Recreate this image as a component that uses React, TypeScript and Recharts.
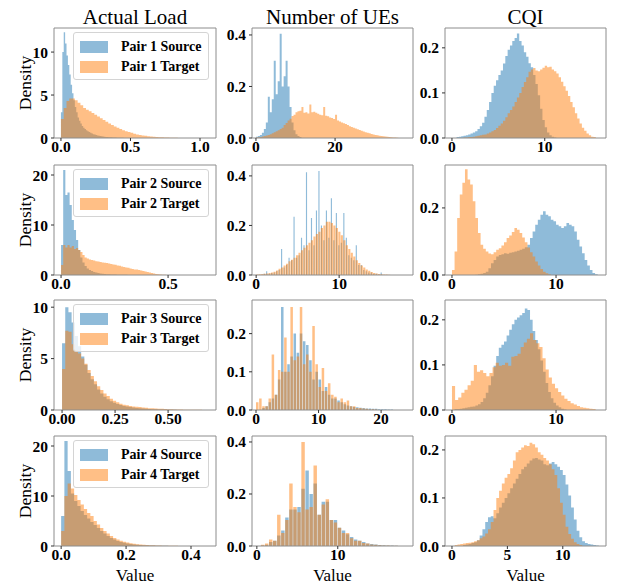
import React from "react";
import { ComposedChart, Area, XAxis, YAxis, ReferenceArea, Legend } from "recharts";

// ---------- data (density per bin) ----------
const columnTitles = ["Actual Load", "Number of UEs", "CQI"];
const pairNames = ["Pair 1", "Pair 2", "Pair 3", "Pair 4"];

// Actual Load
const loadSrc1 = [3, 10, 12.3, 11, 9.6, 8.5, 7.4, 6.2, 5.2, 4.4, 3.6, 3.0, 2.4, 2.0, 1.7, 1.4, 1.2, 1.05, 0.9, 0.8, 0.7, 0.6, 0.52, 0.45, 0.4, 0.35, 0.3, 0.26, 0.22, 0.2, 0.17, 0.15, 0.13, 0.11, 0.1, 0.09, 0.08, 0.07, 0.06, 0.05, 0.04, 0.03, 0.03, 0.02, 0.02, 0.01];
const loadTgt1 = [2.2, 3.5, 4.3, 4.6, 4.6, 4.4, 4.1, 3.8, 3.5, 3.3, 3.1, 2.9, 2.7, 2.5, 2.3, 2.1, 1.9, 1.7, 1.5, 1.35, 1.2, 1.05, 0.9, 0.8, 0.7, 0.6, 0.5, 0.42, 0.36, 0.3, 0.25, 0.21, 0.17, 0.14, 0.12, 0.1, 0.08, 0.06, 0.05, 0.04, 0.03, 0.02, 0.01];
const loadSrc2 = [6, 21, 16, 16.5, 14, 11, 9, 7, 5, 3.5, 2.5, 1.8, 1.3, 1.0, 0.8, 0.6, 0.5, 0.4, 0.3, 0.25, 0.2, 0.17, 0.14, 0.12, 0.1, 0.08, 0.07, 0.06, 0.05, 0.04, 0.03, 0.02, 0.02, 0.01];
const loadTgt2 = [2, 6, 5.5, 6, 5.5, 5.8, 5.2, 5.4, 5, 4.6, 4, 3.5, 3.3, 3.1, 3.0, 2.9, 2.75, 2.7, 2.6, 2.5, 2.45, 2.4, 2.3, 2.2, 2.1, 2.05, 1.9, 1.85, 1.7, 1.62, 1.5, 1.45, 1.3, 1.22, 1.1, 1.08, 0.98, 0.92, 0.8, 0.72, 0.6, 0.52, 0.4, 0.32, 0.22, 0.16, 0.1, 0.06, 0.03, 0.02];
const loadSrc3 = [6.5, 10, 9.5, 8.5, 7.2, 6.2, 5.2, 4.4, 3.6, 3.0, 2.5, 2.0, 1.6, 1.3, 1.05, 0.85, 0.7, 0.58, 0.48, 0.4, 0.34, 0.28, 0.24, 0.2, 0.17, 0.14, 0.12, 0.1, 0.08, 0.07, 0.06, 0.05, 0.04, 0.03, 0.02, 0.02, 0.01];
const loadTgt3 = [4, 7.7, 7.6, 6.4, 5.8, 5.5, 5.0, 4.5, 3.9, 3.3, 2.8, 2.3, 1.95, 1.6, 1.35, 1.1, 0.9, 0.75, 0.62, 0.52, 0.46, 0.4, 0.35, 0.31, 0.28, 0.24, 0.21, 0.18, 0.16, 0.14, 0.12, 0.11, 0.1, 0.08, 0.07, 0.06, 0.05, 0.04, 0.035, 0.03, 0.025, 0.02, 0.02, 0.015, 0.01];
const loadSrc4 = [6, 21, 15, 10.5, 9, 8, 7, 6.2, 5.5, 4.8, 4.2, 3.6, 3.0, 2.5, 2.0, 1.6, 1.3, 1.0, 0.8, 0.65, 0.5, 0.4, 0.32, 0.25, 0.2, 0.16, 0.13, 0.1, 0.08, 0.06, 0.05, 0.04, 0.03, 0.02, 0.02, 0.01];
const loadTgt4 = [3, 10, 12.5, 11.5, 10.2, 9.2, 8.3, 7.4, 6.6, 6.0, 5.0, 4.3, 3.6, 3.0, 2.5, 2.0, 1.6, 1.3, 1.05, 0.85, 0.7, 0.55, 0.45, 0.37, 0.3, 0.25, 0.2, 0.16, 0.13, 0.1, 0.08, 0.07, 0.05, 0.04, 0.03, 0.03, 0.02, 0.02, 0.01, 0.01];

// Number of UEs
const ueSrc1 = [0.005, 0.008, 0.012, 0.02, 0.035, 0.06, 0.16, 0.1, 0.15, 0.3, 0.17, 0.22, 0.405, 0.2, 0.24, 0.3, 0.2, 0.12, 0.06, 0.03, 0.015, 0.008, 0.004];
const ueTgt1 = [0.002, 0.003, 0.004, 0.006, 0.008, 0.01, 0.012, 0.015, 0.018, 0.022, 0.026, 0.03, 0.035, 0.04, 0.05, 0.058, 0.068, 0.075, 0.085, 0.09, 0.1, 0.104, 0.106, 0.12, 0.098, 0.1, 0.095, 0.13, 0.1, 0.102, 0.098, 0.094, 0.09, 0.088, 0.12, 0.086, 0.084, 0.08, 0.078, 0.074, 0.09, 0.068, 0.064, 0.06, 0.057, 0.054, 0.05, 0.046, 0.043, 0.04, 0.037, 0.034, 0.031, 0.028, 0.025, 0.022, 0.02, 0.018, 0.016, 0.014, 0.012, 0.011, 0.009, 0.008, 0.007, 0.006, 0.005, 0.004, 0.003, 0.002, 0.002, 0.001];
const ueSrc2 = [0, 0, 0, 0.005, 0.015, 0.005, 0.008, 0.01, 0.015, 0.02, 0.105, 0.03, 0.04, 0.07, 0.06, 0.235, 0.07, 0.08, 0.15, 0.12, 0.415, 0.1, 0.23, 0.12, 0.26, 0.42, 0.2, 0.14, 0.26, 0.15, 0.31, 0.14, 0.25, 0.12, 0.13, 0.25, 0.15, 0.08, 0.07, 0.06, 0.12, 0.04, 0.04, 0.02, 0.015, 0.01, 0.01, 0.005, 0.005, 0.002, 0.01];
const ueTgt2 = [0.002, 0.003, 0.004, 0.005, 0.006, 0.008, 0.01, 0.013, 0.018, 0.025, 0.03, 0.038, 0.045, 0.055, 0.062, 0.07, 0.08, 0.09, 0.1, 0.11, 0.12, 0.13, 0.14, 0.155, 0.165, 0.175, 0.19, 0.2, 0.215, 0.215, 0.21, 0.2, 0.19, 0.175, 0.16, 0.14, 0.12, 0.105, 0.09, 0.075, 0.06, 0.048, 0.038, 0.03, 0.022, 0.017, 0.012, 0.008, 0.006, 0.004, 0.003, 0.002, 0.002, 0.001];
const ueSrc3 = [0, 0, 0.005, 0.01, 0.02, 0.03, 0.04, 0.08, 0.27, 0.1, 0.12, 0.14, 0.2, 0.15, 0.2, 0.18, 0.17, 0.13, 0.08, 0.1, 0.08, 0.05, 0.06, 0.04, 0.03, 0.03, 0.025, 0.02, 0.015, 0.012, 0.01, 0.008, 0.007, 0.006, 0.005, 0.004, 0.004, 0.003, 0.003, 0.002, 0.002, 0.002, 0.001, 0.001];
const ueTgt3 = [0.02, 0.03, 0.01, 0.01, 0.03, 0.145, 0.04, 0.105, 0.1, 0.19, 0.1, 0.27, 0.13, 0.14, 0.27, 0.12, 0.145, 0.1, 0.22, 0.12, 0.06, 0.11, 0.05, 0.07, 0.04, 0.035, 0.02, 0.03, 0.02, 0.025, 0.01, 0.01, 0.005, 0.005, 0.004, 0.003, 0.002, 0.002, 0.001];
const ueSrc4 = [0, 0.002, 0.005, 0.015, 0.02, 0.04, 0.06, 0.11, 0.14, 0.14, 0.15, 0.22, 0.29, 0.2, 0.24, 0.12, 0.17, 0.17, 0.1, 0.1, 0.07, 0.06, 0.045, 0.035, 0.025, 0.02, 0.015, 0.01, 0.008, 0.006, 0.004, 0.003, 0.002, 0.002, 0.001];
const ueTgt4 = [0, 0.005, 0.01, 0.025, 0.02, 0.12, 0.05, 0.1, 0.24, 0.15, 0.13, 0.4, 0.14, 0.15, 0.31, 0.12, 0.16, 0.18, 0.1, 0.09, 0.07, 0.05, 0.05, 0.03, 0.02, 0.02, 0.012, 0.01, 0.006, 0.005, 0.003, 0.002, 0.002, 0.001, 0.001];

// CQI
const cqiSrc1 = [0, 0, 0.002, 0.003, 0.004, 0.005, 0.006, 0.008, 0.01, 0.012, 0.015, 0.02, 0.026, 0.034, 0.047, 0.062, 0.08, 0.1, 0.116, 0.128, 0.14, 0.15, 0.165, 0.182, 0.196, 0.205, 0.215, 0.222, 0.232, 0.215, 0.205, 0.19, 0.18, 0.166, 0.157, 0.14, 0.12, 0.095, 0.065, 0.04, 0.024, 0.012, 0.006, 0.003, 0.001];
const cqiTgt1 = [0, 0, 0, 0, 0, 0.001, 0.001, 0.002, 0.002, 0.003, 0.004, 0.005, 0.006, 0.007, 0.008, 0.01, 0.012, 0.015, 0.018, 0.022, 0.027, 0.032, 0.038, 0.046, 0.055, 0.062, 0.07, 0.08, 0.09, 0.1, 0.113, 0.124, 0.135, 0.147, 0.152, 0.155, 0.15, 0.148, 0.152, 0.156, 0.16, 0.157, 0.158, 0.152, 0.148, 0.143, 0.135, 0.125, 0.115, 0.105, 0.093, 0.08, 0.068, 0.055, 0.043, 0.032, 0.023, 0.016, 0.01, 0.006, 0.003, 0.002];
const cqiSrc2 = [0, 0, 0, 0, 0, 0, 0, 0, 0, 0.001, 0.002, 0.004, 0.006, 0.01, 0.02, 0.035, 0.045, 0.055, 0.06, 0.062, 0.065, 0.063, 0.066, 0.068, 0.07, 0.072, 0.075, 0.078, 0.083, 0.09, 0.11, 0.13, 0.15, 0.165, 0.18, 0.19, 0.18, 0.175, 0.165, 0.16, 0.15, 0.145, 0.14, 0.145, 0.155, 0.15, 0.145, 0.13, 0.105, 0.085, 0.065, 0.045, 0.028, 0.015, 0.006, 0.002];
const cqiTgt2 = [0.015, 0.07, 0.17, 0.24, 0.275, 0.315, 0.285, 0.27, 0.22, 0.17, 0.125, 0.09, 0.078, 0.07, 0.064, 0.062, 0.068, 0.075, 0.08, 0.088, 0.098, 0.11, 0.118, 0.128, 0.14, 0.135, 0.125, 0.112, 0.098, 0.082, 0.068, 0.055, 0.04, 0.028, 0.018, 0.01, 0.005, 0.002];
const cqiSrc3 = [0, 0.002, 0.002, 0.003, 0.004, 0.005, 0.006, 0.007, 0.008, 0.01, 0.013, 0.018, 0.026, 0.038, 0.055, 0.075, 0.098, 0.12, 0.138, 0.145, 0.152, 0.165, 0.178, 0.19, 0.2, 0.205, 0.21, 0.215, 0.225, 0.222, 0.2, 0.175, 0.155, 0.135, 0.11, 0.085, 0.06, 0.04, 0.026, 0.016, 0.01, 0.006, 0.003, 0.001];
const cqiTgt3 = [0.053, 0.022, 0.028, 0.038, 0.045, 0.055, 0.065, 0.1, 0.085, 0.088, 0.082, 0.075, 0.082, 0.095, 0.105, 0.098, 0.1, 0.105, 0.098, 0.118, 0.12, 0.125, 0.14, 0.15, 0.158, 0.17, 0.155, 0.148, 0.14, 0.115, 0.09, 0.072, 0.058, 0.048, 0.04, 0.032, 0.025, 0.02, 0.015, 0.012, 0.009, 0.006, 0.005, 0.004, 0.003, 0.002];
const cqiSrc4 = [0, 0, 0, 0, 0.002, 0.003, 0.004, 0.006, 0.008, 0.012, 0.022, 0.035, 0.05, 0.06, 0.062, 0.058, 0.068, 0.08, 0.09, 0.1, 0.11, 0.12, 0.13, 0.14, 0.15, 0.16, 0.165, 0.172, 0.178, 0.182, 0.183, 0.18, 0.178, 0.17, 0.168, 0.172, 0.175, 0.17, 0.165, 0.158, 0.148, 0.128, 0.105, 0.08, 0.055, 0.032, 0.018, 0.01, 0.006, 0.004, 0.003, 0.002, 0.001];
const cqiTgt4 = [0, 0.002, 0.003, 0.004, 0.005, 0.006, 0.007, 0.008, 0.01, 0.012, 0.016, 0.02, 0.026, 0.035, 0.05, 0.075, 0.1, 0.115, 0.13, 0.142, 0.15, 0.162, 0.178, 0.195, 0.2, 0.205, 0.21, 0.208, 0.215, 0.212, 0.205, 0.195, 0.19, 0.183, 0.178, 0.17, 0.16, 0.148, 0.12, 0.09, 0.065, 0.04, 0.025, 0.015, 0.008, 0.004, 0.002];

// ---------- helpers ----------
type Hist = { values: number[]; width: number; start: number; fill: number };
const hist = (values: number[], width: number, fill = 1, start = 0): Hist => ({ values, width, start, fill });

const edges = (h: Hist) =>
  h.values.flatMap((_, i) => {
    const x0 = h.start + i * h.width;
    return [x0, x0 + h.width * h.fill];
  });

const valueAt = (h: Hist, x: number) => {
  const i = Math.floor((x - h.start) / h.width + 1e-7);
  if (i < 0 || i >= h.values.length) return 0;
  const x0 = h.start + i * h.width;
  return x < x0 + h.width * h.fill - 1e-7 ? h.values[i] : 0;
};

// step data shared by both series of a panel
const merge = (src: Hist, tgt: Hist) => {
  const xs = Array.from(new Set([...edges(src), ...edges(tgt)].map((x) => +x.toFixed(6)))).sort((a, b) => a - b);
  return xs.map((x) => ({ x, src: valueAt(src, x), tgt: valueAt(tgt, x) }));
};

type PanelCfg = {
  src: Hist;
  tgt: Hist;
  xDomain: [number, number];
  xTicks: number[];
  xDec: number;
  yDomain: [number, number];
  yTicks: number[];
  yDec: number;
};

const panels: PanelCfg[][] = [
  [
    { src: hist(loadSrc1, 0.01), tgt: hist(loadTgt1, 0.02), xDomain: [-0.05, 1.115], xTicks: [0, 0.5, 1], xDec: 1, yDomain: [0, 12.8], yTicks: [0, 5, 10], yDec: 0 },
    { src: hist(ueSrc1, 0.5), tgt: hist(ueTgt1, 0.5), xDomain: [-1.0, 39.7], xTicks: [0, 20], xDec: 0, yDomain: [0, 0.427], yTicks: [0, 0.2, 0.4], yDec: 1 },
    { src: hist(cqiSrc1, 0.25), tgt: hist(cqiTgt1, 0.25), xDomain: [-0.75, 16.6], xTicks: [0, 10], xDec: 0, yDomain: [0, 0.244], yTicks: [0, 0.1, 0.2], yDec: 1 },
  ],
  [
    { src: hist(loadSrc2, 0.01), tgt: hist(loadTgt2, 0.01), xDomain: [-0.033, 0.724], xTicks: [0, 0.5], xDec: 1, yDomain: [0, 22], yTicks: [0, 10, 20], yDec: 0 },
    { src: hist(ueSrc2, 0.3, 0.45), tgt: hist(ueTgt2, 0.3, 0.85), xDomain: [-0.5, 18.9], xTicks: [0, 10], xDec: 0, yDomain: [0, 0.444], yTicks: [0, 0.2, 0.4], yDec: 1 },
    { src: hist(cqiSrc2, 0.25), tgt: hist(cqiTgt2, 0.25), xDomain: [-0.67, 14.8], xTicks: [0, 10], xDec: 0, yDomain: [0, 0.328], yTicks: [0, 0.2], yDec: 1 },
  ],
  [
    { src: hist(loadSrc3, 0.015), tgt: hist(loadTgt3, 0.015), xDomain: [-0.038, 0.726], xTicks: [0, 0.25, 0.5], xDec: 2, yDomain: [0, 10.7], yTicks: [0, 5, 10], yDec: 0 },
    { src: hist(ueSrc3, 0.5, 0.8), tgt: hist(ueTgt3, 0.5, 0.8), xDomain: [-0.64, 25.1], xTicks: [0, 10, 20], xDec: 0, yDomain: [0, 0.288], yTicks: [0, 0.1, 0.2], yDec: 1 },
    { src: hist(cqiSrc3, 0.25), tgt: hist(cqiTgt3, 0.3), xDomain: [-0.67, 14.8], xTicks: [0, 10], xDec: 0, yDomain: [0, 0.244], yTicks: [0, 0.1, 0.2], yDec: 1 },
  ],
  [
    { src: hist(loadSrc4, 0.01), tgt: hist(loadTgt4, 0.01), xDomain: [-0.022, 0.477], xTicks: [0, 0.2, 0.4], xDec: 1, yDomain: [0, 22], yTicks: [0, 10, 20], yDec: 0 },
    { src: hist(ueSrc4, 0.5, 0.85), tgt: hist(ueTgt4, 0.5, 0.85), xDomain: [-0.6, 19.3], xTicks: [0, 10], xDec: 0, yDomain: [0, 0.423], yTicks: [0, 0.2, 0.4], yDec: 1 },
    { src: hist(cqiSrc4, 0.25), tgt: hist(cqiTgt4, 0.25), xDomain: [-0.63, 13.9], xTicks: [0, 5, 10], xDec: 0, yDomain: [0, 0.229], yTicks: [0, 0.1, 0.2], yDec: 1 },
  ],
];

// ---------- layout / style ----------
const FONT = '"Liberation Serif", "Times New Roman", serif';
const BLUE = "#1f77b4";
const ORANGE = "#ff7f0e";
const COL_LEFT = [54, 252, 445];
const COL_W = [162, 161, 161];
const ROW_TOP = [28, 165, 300, 436];
const PLOT_H = 110;
const YW = 50;
const MT = 4;
const MR = 6;

const tickStyle = { fill: "#000", fontSize: 15.5, fontWeight: 700, fontFamily: FONT };

function PairLegend({ name }: { name: string }) {
  const row = (color: string, label: string) => (
    <div style={{ display: "flex", alignItems: "center", height: 20 }}>
      <span style={{ display: "inline-block", width: 28, height: 12, background: color, marginLeft: 6, marginRight: 13 }} />
      <span style={{ whiteSpace: "nowrap" }}>{label}</span>
    </div>
  );
  return (
    <div
      style={{
        width: 136,
        height: 48,
        boxSizing: "border-box",
        border: "1px solid #d4d4d4",
        borderRadius: 3,
        background: "rgba(255,255,255,0.8)",
        fontFamily: FONT,
        fontWeight: 700,
        fontSize: 14,
        color: "#000",
        paddingTop: 4,
      }}
    >
      {row("rgba(31,119,180,0.5)", `${name} Source`)}
      {row("rgba(255,127,14,0.5)", `${name} Target`)}
    </div>
  );
}

function Panel({ p, row, col }: { p: PanelCfg; row: number; col: number }) {
  const xh = row === 3 ? 44 : 24;
  const width = YW + COL_W[col] + MR;
  const height = MT + PLOT_H + xh;
  const data = merge(p.src, p.tgt);
  return (
    <div style={{ position: "absolute", left: COL_LEFT[col] - YW, top: ROW_TOP[row] - MT }}>
      <ComposedChart width={width} height={height} data={data} margin={{ top: MT, right: MR, left: 0, bottom: 0 }}>
        <XAxis
          type="number"
          dataKey="x"
          domain={p.xDomain}
          ticks={p.xTicks}
          interval={0}
          allowDataOverflow
          tickFormatter={(v: number) => v.toFixed(p.xDec)}
          tick={tickStyle}
          tickSize={3}
          tickMargin={0}
          tickLine={{ stroke: "#333" }}
          axisLine={false}
          height={xh}
          label={
            row === 3
              ? { value: "Value", position: "insideBottom", offset: 9, fill: "#000", style: { fontFamily: FONT, fontSize: 17 } }
              : undefined
          }
        />
        <YAxis
          type="number"
          domain={p.yDomain}
          ticks={p.yTicks}
          interval={0}
          allowDataOverflow
          tickFormatter={(v: number) => v.toFixed(p.yDec)}
          tick={tickStyle}
          tickSize={3}
          tickMargin={3}
          tickLine={{ stroke: "#333" }}
          axisLine={false}
          width={YW}
          label={
            col === 0
              ? { value: "Density", angle: -90, position: "insideLeft", offset: 21, fill: "#000", style: { textAnchor: "middle", fontFamily: FONT, fontSize: 17.5 } }
              : undefined
          }
        />
        <Area type="stepAfter" dataKey="src" fill={BLUE} fillOpacity={0.5} stroke="none" dot={false} activeDot={false} isAnimationActive={false} />
        <Area type="stepAfter" dataKey="tgt" fill={ORANGE} fillOpacity={0.5} stroke="none" dot={false} activeDot={false} isAnimationActive={false} />
        <ReferenceArea x1={p.xDomain[0]} x2={p.xDomain[1]} y1={p.yDomain[0]} y2={p.yDomain[1]} fill="none" stroke="#8c8c8c" strokeWidth={1} ifOverflow="visible" />
        {col === 0 && (
          <Legend
            layout="horizontal"
            align="center"
            verticalAlign="middle"
            wrapperStyle={{ left: 73 - (COL_LEFT[0] - YW), top: 8, width: 136, height: 48 }}
            content={() => <PairLegend name={pairNames[row]} />}
          />
        )}
      </ComposedChart>
    </div>
  );
}

export default function App() {
  return (
    <div style={{ position: "absolute", left: 0, top: 0, width: 619, height: 584, background: "#fff", overflow: "hidden" }}>
      {columnTitles.map((t, c) => (
        <div
          key={t}
          style={{
            position: "absolute",
            left: COL_LEFT[c],
            top: 7,
            width: COL_W[c],
            textAlign: "center",
            fontFamily: FONT,
            fontSize: 21,
            lineHeight: "21px",
            color: "#000",
          }}
        >
          {t}
        </div>
      ))}
      {panels.map((r, ri) => r.map((p, ci) => <Panel key={`${ri}-${ci}`} p={p} row={ri} col={ci} />))}
    </div>
  );
}
